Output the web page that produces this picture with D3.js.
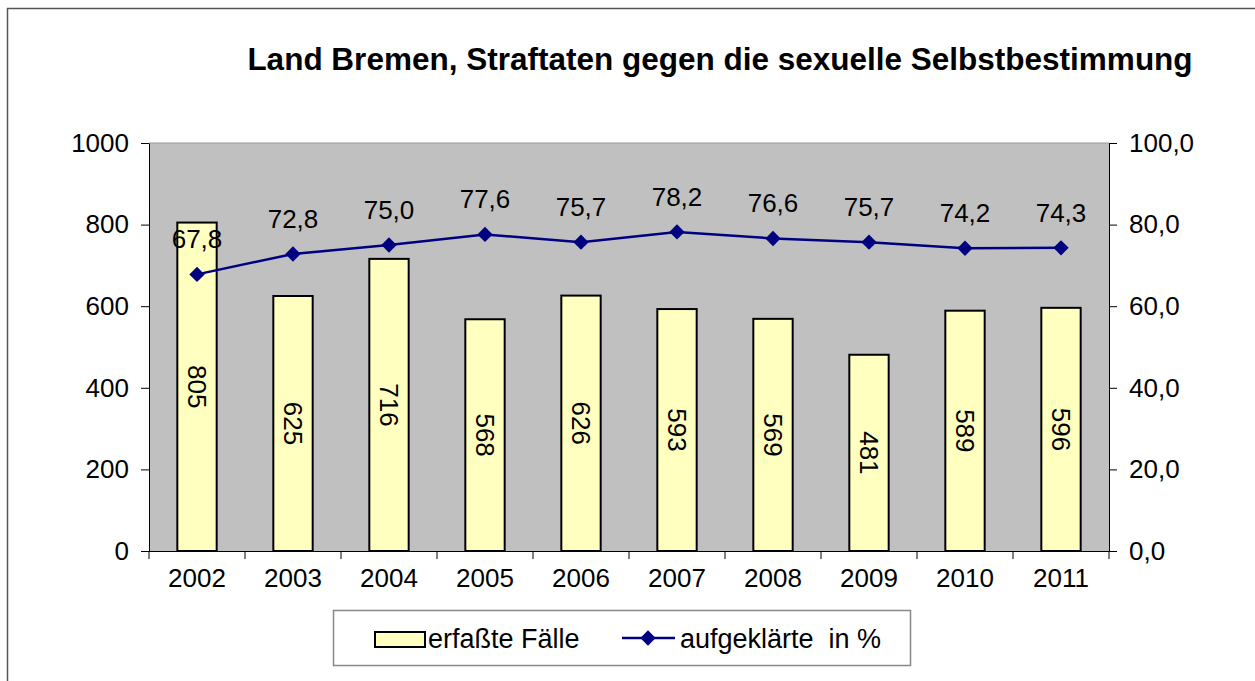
<!DOCTYPE html>
<html>
<head>
<meta charset="utf-8">
<script src="https://cdn.jsdelivr.net/npm/d3@7"></script>
<style>
body{margin:0;background:#fff;}
svg text{font-family:"Liberation Sans",Arial,sans-serif;fill:#000;}
</style>
</head>
<body>
<div id="chart"></div>
<script>
let years=["2002","2003","2004","2005","2006","2007","2008","2009","2010","2011"];
let faelle=[805,625,716,568,626,593,569,481,589,596];
let quote=[67.8,72.8,75.0,77.6,75.7,78.2,76.6,75.7,74.2,74.3];
let leftTicks=[0,200,400,600,800,1000];
let rightTicks=[0,20,40,60,80,100];

let width=1255, height=681;
let plot={left:149,right:1109,top:143,bottom:551};
let fs=26;
let fmt=d=>d.toFixed(1).replace(".",",");

let chart=d3.select("#chart").append("svg")
.attr("width",width).attr("height",height);

// outer frame
chart.append("rect").attr("x",7.5).attr("y",8.5).attr("width",1260).attr("height",700)
.attr("fill","none").attr("stroke","#555").attr("stroke-width",1.5);

chart.append("text").text("Land Bremen, Straftaten gegen die sexuelle Selbstbestimmung")
.attr("x",720).attr("y",70).attr("text-anchor","middle")
.attr("font-size",31.5).attr("font-weight","bold");

let xscale=d3.scaleBand().domain(years).range([plot.left,plot.right]);
let yscale=d3.scaleLinear().domain([0,1000]).range([plot.bottom,plot.top]);
let y2scale=d3.scaleLinear().domain([0,100]).range([plot.bottom,plot.top]);

chart.append("rect").attr("x",plot.left).attr("y",plot.top)
.attr("width",plot.right-plot.left).attr("height",plot.bottom-plot.top)
.attr("fill","#c0c0c0");
chart.append("line").attr("x1",plot.left).attr("x2",plot.right)
.attr("y1",plot.top).attr("y2",plot.top).attr("stroke","#999");

let bw=xscale.bandwidth()*0.41;
chart.selectAll("rect.bar").data(faelle).enter().append("rect")
.attr("class","bar")
.attr("x",(d,i)=>xscale(years[i])+xscale.bandwidth()/2-bw/2)
.attr("y",d=>yscale(d))
.attr("width",bw)
.attr("height",d=>yscale(0)-yscale(d))
.attr("fill","#ffffc0").attr("stroke","#000").attr("stroke-width",2);

chart.selectAll("text.barlab").data(faelle).enter().append("text")
.attr("class","barlab")
.attr("transform",(d,i)=>{
  let cx=xscale(years[i])+xscale.bandwidth()/2;
  let cy=(yscale(d)+yscale(0))/2;
  return "translate("+cx+","+cy+") rotate(90)";
})
.attr("text-anchor","middle").attr("dy","0.35em")
.attr("font-size",fs).text(d=>d);

// axes
let yAxis=d3.axisLeft(yscale).tickValues(leftTicks).tickFormat(d3.format("d")).tickSizeInner(8).tickSizeOuter(0).tickPadding(12);
let gy=chart.append("g").attr("transform","translate("+plot.left+",0)").call(yAxis);
let y2Axis=d3.axisRight(y2scale).tickValues(rightTicks).tickFormat(fmt).tickSizeInner(8).tickSizeOuter(0).tickPadding(12);
let gy2=chart.append("g").attr("transform","translate("+plot.right+",0)").call(y2Axis);
let xAxis=d3.axisBottom(xscale).tickSize(0).tickPadding(18);
let gx=chart.append("g").attr("transform","translate(0,"+plot.bottom+")").call(xAxis);
gx.selectAll(".tick line").remove();
chart.selectAll(".xt").data(years.concat(["end"])).enter().append("line")
.attr("x1",(d,i)=>plot.left+i*xscale.bandwidth()).attr("x2",(d,i)=>plot.left+i*xscale.bandwidth())
.attr("y1",plot.bottom).attr("y2",plot.bottom+8).attr("stroke","#000");
[gy,gy2,gx].forEach(g=>{
  g.attr("font-size",fs).attr("font-family","'Liberation Sans',Arial,sans-serif");
  g.selectAll("text").attr("font-size",fs);
  g.selectAll("path,line").attr("stroke","#000");
});
gx.select(".domain").attr("d","M"+(plot.left-8)+",0.5H"+(plot.right+8));

// line series
let cx=(d,i)=>xscale(years[i])+xscale.bandwidth()/2;
let line=d3.line().x(cx).y(d=>y2scale(d));
chart.append("path").datum(quote).attr("d",line)
.attr("fill","none").attr("stroke","#000080").attr("stroke-width",2.5);
let diamond=d3.symbol().type(d3.symbolDiamond2).size(150);
chart.selectAll("path.mk").data(quote).enter().append("path")
.attr("class","mk").attr("d",diamond)
.attr("transform",(d,i)=>"translate("+cx(d,i)+","+y2scale(d)+")")
.attr("fill","#000080");
chart.selectAll("text.ql").data(quote).enter().append("text")
.attr("x",cx).attr("y",d=>y2scale(d)-26)
.attr("text-anchor","middle").attr("font-size",fs).text(fmt);

// legend
let lg=chart.append("g");
lg.append("rect").attr("x",333.5).attr("y",610.5).attr("width",577).attr("height",55)
.attr("fill","#fff").attr("stroke","#888").attr("stroke-width",1.5);
lg.append("rect").attr("x",375).attr("y",632).attr("width",50).attr("height",15)
.attr("fill","#ffffc0").attr("stroke","#000").attr("stroke-width",2);
lg.append("text").attr("x",428).attr("y",648).attr("font-size",27).text("erfaßte Fälle");
lg.append("line").attr("x1",622).attr("x2",675).attr("y1",638).attr("y2",638)
.attr("stroke","#000080").attr("stroke-width",2.5);
lg.append("path").attr("d",diamond).attr("transform","translate(648,638)").attr("fill","#000080");
lg.append("text").attr("x",680).attr("y",648).attr("font-size",27).attr("xml:space","preserve").text("aufgeklärte  in %");
</script>
</body>
</html>
